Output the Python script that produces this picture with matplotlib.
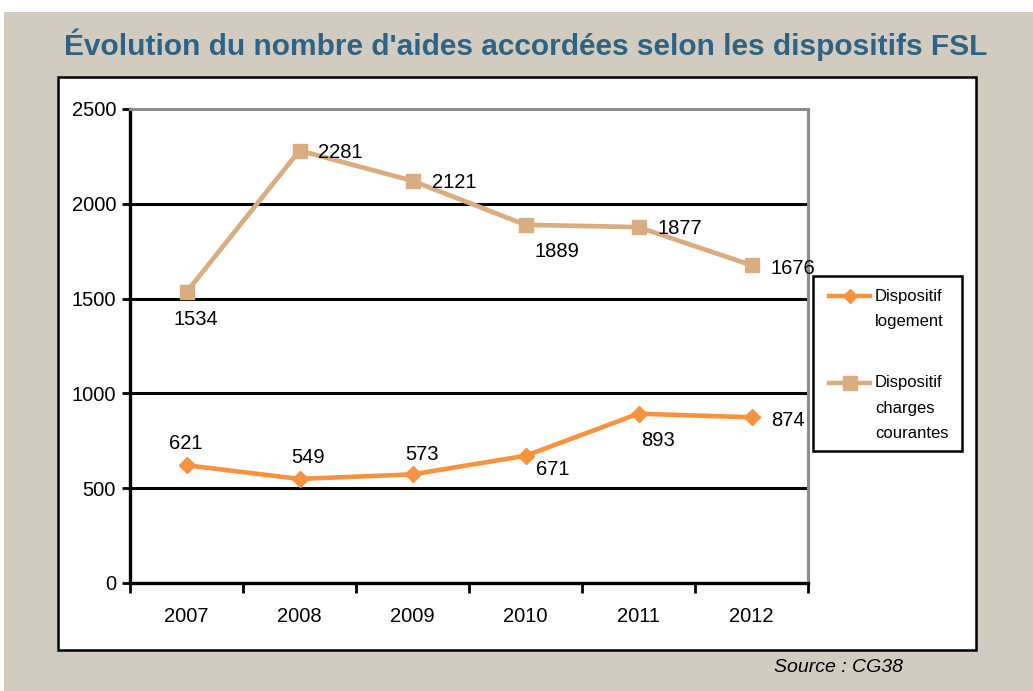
import matplotlib
matplotlib.use("Agg")
import matplotlib.pyplot as plt
from matplotlib.patches import Rectangle
from matplotlib.lines import Line2D

years = ["2007", "2008", "2009", "2010", "2011", "2012"]
logement = [621, 549, 573, 671, 893, 874]
charges = [1534, 2281, 2121, 1889, 1877, 1676]
yticks = [0, 500, 1000, 1500, 2000, 2500]
title = "Évolution du nombre d'aides accordées selon les dispositifs FSL"
source = "Source : CG38"
legend_labels = [["Dispositif", "logement"], ["Dispositif", "charges", "courantes"]]

# data label offsets (pixels, label centre relative to point; y down positive)
off_log = [(-1, -22), (9, -21), (10, -20), (27, 14), (20, 27), (36, 3)]
off_chg = [(9, 27), (41, 2), (42, 2), (31, 27), (41, 1), (41, 3)]

c_log = "#F7923F"
c_chg = "#D9AD80"
bg = "#D2CBC0"
title_col = "#2D6485"
fam = ["Liberation Sans", "DejaVu Sans"]

W, H = 1033, 691
fig = plt.figure(figsize=(W / 100, H / 100), dpi=100)
fig.patch.set_facecolor("white")

def px(x0, y0, x1, y1):
    return (x0 / W, 1 - y1 / H, (x1 - x0) / W, (y1 - y0) / H)

# beige background
x, y, w, h = px(4, 12, W, H)
fig.patches.append(Rectangle((x, y), w, h, transform=fig.transFigure, facecolor=bg, edgecolor="none", zorder=0))
# white panel
x, y, w, h = px(58, 77, 976, 650)
fig.patches.append(Rectangle((x, y), w, h, transform=fig.transFigure, facecolor="white", edgecolor="black", lw=1.8, zorder=1))

fig.text(526 / W, 1 - 45 / H, title, ha="center", va="center", color=title_col,
         fontsize=21.5, fontweight="bold", family=fam)
fig.text(838 / W, 1 - 668 / H, source, ha="center", va="center", color="black",
         fontsize=14, style="italic", family=fam)

ax = fig.add_axes(px(130, 109, 808, 583))
ax.set_zorder(3)
ax.set_facecolor("white")
xs = list(range(len(years)))
ax.set_xlim(-0.5, len(years) - 0.5)
ax.set_ylim(0, 2500)

for v in yticks[1:-1]:
    ax.axhline(v, color="black", lw=2.2, zorder=1)

for s in ["top", "right"]:
    ax.spines[s].set_color("#8C8C8C")
    ax.spines[s].set_linewidth(2.2)
for s in ["left", "bottom"]:
    ax.spines[s].set_color("black")
    ax.spines[s].set_linewidth(2.4)

ax.set_yticks(yticks)
ax.set_yticklabels([str(v) for v in yticks], family=fam, fontsize=14.5)
ax.set_xticks([i - 0.5 for i in range(len(years) + 1)], minor=False)
ax.set_xticklabels([""] * (len(years) + 1))
ax.set_xticks(xs, minor=True)
ax.set_xticklabels(years, minor=True, family=fam, fontsize=14.5)
ax.tick_params(axis="x", which="major", length=7, width=2, color="black", direction="out")
ax.tick_params(axis="x", which="minor", length=0, pad=17)
ax.tick_params(axis="y", length=6, width=2, color="black", direction="out", pad=4)

ax.plot(xs, logement, color=c_log, lw=3.3, marker="D", markersize=8.5, zorder=3, clip_on=False)
ax.plot(xs, charges, color=c_chg, lw=3.4, marker="s", markersize=10.5, zorder=3, clip_on=False)

def label(vals, offs):
    for i, (v, (dx, dy)) in enumerate(zip(vals, offs)):
        ax.annotate(str(v), (i, v), xytext=(dx, -dy), textcoords="offset pixels",
                    ha="center", va="center", family=fam, fontsize=14.5, zorder=4)

label(logement, off_log)
label(charges, off_chg)

# legend box
x, y, w, h = px(813, 276, 962, 451)
fig.patches.append(Rectangle((x, y), w, h, transform=fig.transFigure, facecolor="white", edgecolor="black", lw=1.8, zorder=5))
for (ly, lines, col, mk, ms) in [(296, legend_labels[0], c_log, "D", 7.5), (383, legend_labels[1], c_chg, "s", 9.5)]:
    fig.add_artist(Line2D([829 / W, 870 / W], [1 - ly / H] * 2, transform=fig.transFigure, color=col, lw=3.2, zorder=6))
    fig.add_artist(Line2D([849.5 / W], [1 - ly / H], transform=fig.transFigure, color=col, marker=mk, markersize=ms, zorder=6))
    for k, t in enumerate(lines):
        fig.text(875 / W, 1 - (ly + k * 25.5) / H, t, ha="left", va="center", family=fam, fontsize=12, zorder=7)

fig.savefig("out.png", dpi=100, facecolor=fig.get_facecolor())
